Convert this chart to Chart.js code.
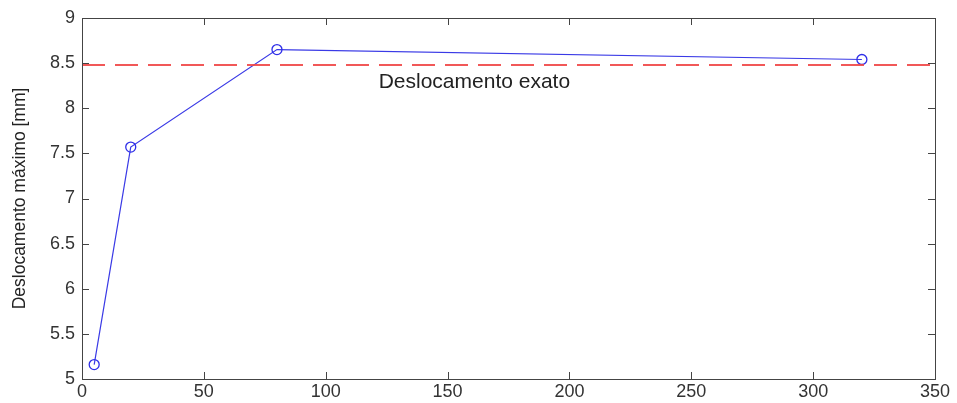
<!DOCTYPE html>
<html>
<head>
<meta charset="utf-8">
<script src="https://cdn.jsdelivr.net/npm/chart.js@4"></script>
<style>
  html, body { margin: 0; padding: 0; background: #fff; }
  #wrap { width: 957px; height: 403px; }
</style>
</head>
<body>
<div id="wrap"><canvas id="grafico"></canvas></div>
<script>
// valores
const numElementos = [5, 20, 80, 320];
const deslocMaximo = [5.16, 7.57, 8.65, 8.54];
const deslocExato = 8.48;
const xLimites = [0, 350];
const yLimites = [5, 9];
const rotuloExato = "Deslocamento exato";
const tituloY = "Deslocamento máximo [mm]";

const corEixo = "#444";
const corTexto = "#333";
const fonte = "'Liberation Sans', Arial, sans-serif";

// moldura e tracinhos para dentro, estilo matlab
const molduraPlugin = {
    id: "moldura",
    afterDatasetsDraw(chart) {
        const ctx = chart.ctx;
        const a = chart.chartArea;
        const xs = chart.scales.x;
        const ys = chart.scales.y;
        const len = 7;
        ctx.save();
        ctx.strokeStyle = corEixo;
        ctx.lineWidth = 1;
        ctx.beginPath();
        xs.ticks.forEach((t, i) => {
            const px = Math.round(xs.getPixelForTick(i)) + 0.5;
            ctx.moveTo(px, a.bottom);
            ctx.lineTo(px, a.bottom - len);
            ctx.moveTo(px, a.top);
            ctx.lineTo(px, a.top + len);
        });
        ys.ticks.forEach((t, i) => {
            const py = Math.round(ys.getPixelForTick(i)) + 0.5;
            ctx.moveTo(a.left, py);
            ctx.lineTo(a.left + len, py);
            ctx.moveTo(a.right, py);
            ctx.lineTo(a.right - len, py);
        });
        ctx.stroke();
        ctx.strokeRect(Math.round(a.left) + 0.5, Math.round(a.top) + 0.5,
                       Math.round(a.right - a.left), Math.round(a.bottom - a.top));

        // texto do deslocamento exato
        ctx.fillStyle = "#222";
        ctx.font = "21px " + fonte;
        ctx.textAlign = "center";
        ctx.textBaseline = "middle";
        ctx.fillText(rotuloExato, xs.getPixelForValue(161), ys.getPixelForValue(8.29));
        ctx.restore();
    }
};

new Chart(document.getElementById("grafico"), {
    type: "scatter",
    data: {
        datasets: [
            {
                label: "exato",
                data: xLimites.map(x => ({ x: x, y: deslocExato })),
                showLine: true,
                borderColor: "rgba(240, 70, 70, 0.9)",
                borderWidth: 2,
                borderDash: [23, 10],
                pointRadius: 0
            },
            {
                label: "calculado",
                data: numElementos.map((x, i) => ({ x: x, y: deslocMaximo[i] })),
                showLine: true,
                borderColor: "#3a3ae6",
                borderWidth: 1.2,
                pointStyle: "circle",
                pointRadius: 5,
                pointBorderWidth: 1.3,
                pointBorderColor: "#2e2ee8",
                pointBackgroundColor: "rgba(0,0,0,0)"
            }
        ]
    },
    options: {
        responsive: true,
        maintainAspectRatio: false,
        animation: false,
        events: [],
        layout: { padding: { left: 0, right: 22, top: 18, bottom: 0 } },
        plugins: {
            legend: { display: false },
            tooltip: { enabled: false }
        },
        scales: {
            x: {
                type: "linear",
                min: xLimites[0],
                max: xLimites[1],
                ticks: {
                    stepSize: 50,
                    color: corTexto,
                    padding: 2,
                    font: { size: 18, family: fonte }
                },
                grid: { display: false, drawTicks: false },
                border: { display: false },
                afterFit(scale) { scale.height = 24; }
            },
            y: {
                type: "linear",
                min: yLimites[0],
                max: yLimites[1],
                ticks: {
                    stepSize: 0.5,
                    color: corTexto,
                    padding: 7,
                    font: { size: 18, family: fonte },
                    callback: v => String(v)
                },
                grid: { display: false, drawTicks: false },
                border: { display: false },
                title: {
                    display: true,
                    text: tituloY,
                    color: "#222",
                    padding: { top: 10, bottom: 4 },
                    font: { size: 17.5, family: fonte }
                },
                afterFit(scale) { scale.width = 82; }
            }
        }
    },
    plugins: [molduraPlugin]
});
</script>
</body>
</html>
